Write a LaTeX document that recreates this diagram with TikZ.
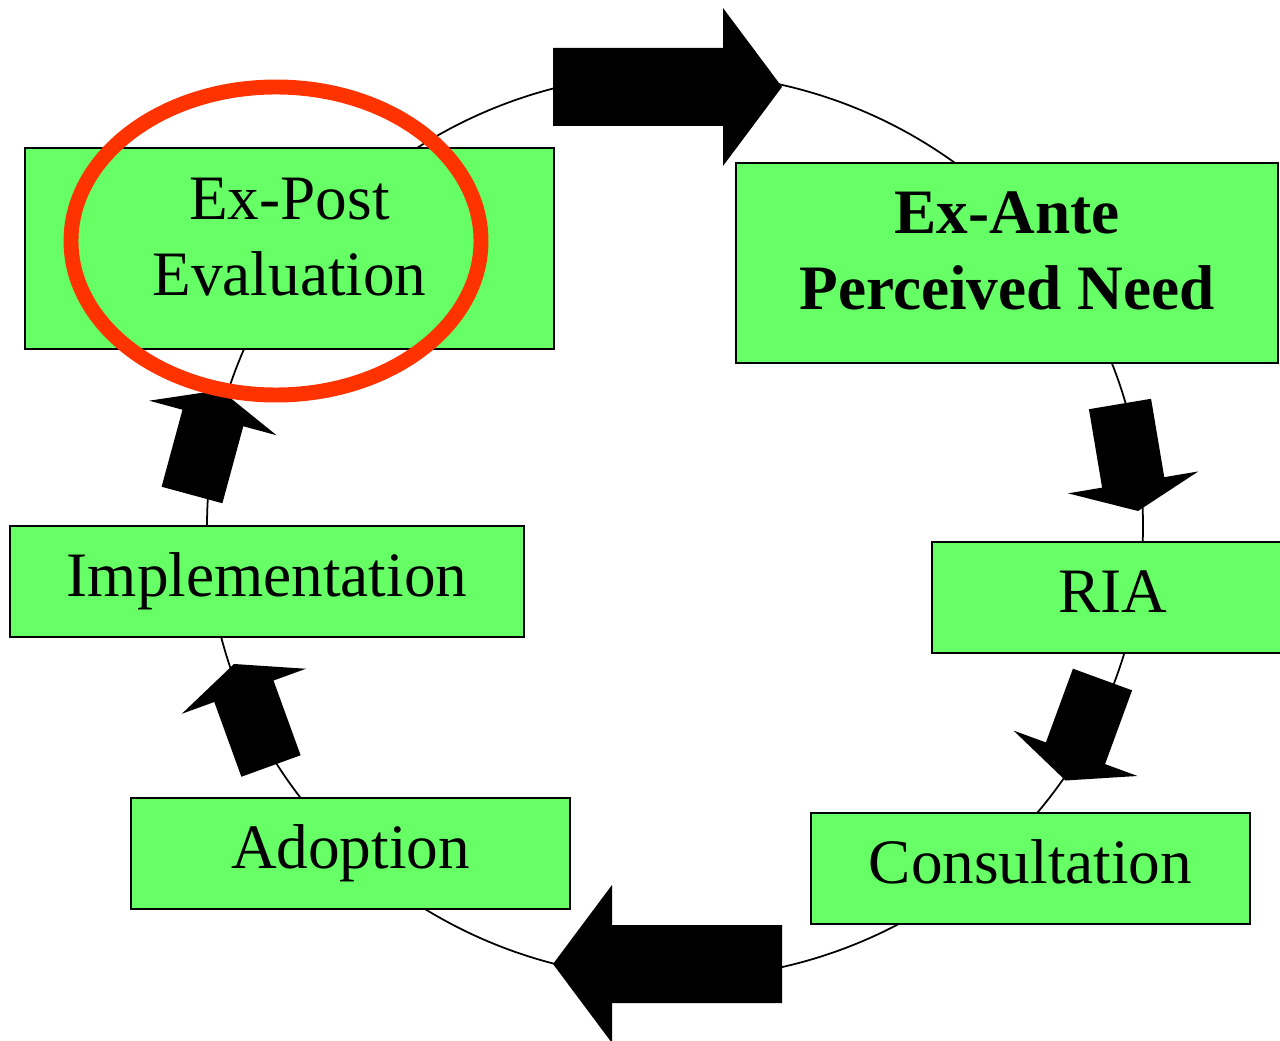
\documentclass[tikz,border=0pt]{standalone}
\usepackage{fontspec}
\setmainfont{Liberation Serif}
\usepackage{tikz}
\usetikzlibrary{calc}

\definecolor{stagegreen}{HTML}{66FF66}
\definecolor{markred}{HTML}{FF3300}

% block arrow: tail, tip, shaft half width, head half width, head length
\newcommand{\blockarrow}[5]{%
    \coordinate (hb) at ($(#2)!#5!(#1)$);
    \fill ($(#1)!#3!90:(#2)$) -- ($(hb)!#3!90:(#2)$) -- ($(hb)!#4!90:(#2)$) -- (#2)
        -- ($(hb)!#4!-90:(#2)$) -- ($(hb)!#3!-90:(#2)$) -- ($(#1)!#3!-90:(#2)$) -- cycle;
}

\tikzset{
    stage/.style={draw=black, line width=1.4pt, fill=stagegreen, align=center,
        font=\fontsize{36}{43.2}\selectfont},
    oneline/.style={stage, minimum height=2.22cm, text height=25.2pt, text depth=7.9pt},
}

\begin{document}
\begin{tikzpicture}
    \clip (0,0) rectangle (25.6,20.8);

    % Cycle
    \draw[line width=1pt] (13.5,10.28) ellipse (9.36 and 9.06);

    % Stages
    \node[stage, minimum width=10.58cm, minimum height=4.02cm] (expost) at (5.79,15.83)
        {Ex-Post\\Evaluation\rule[-13.7pt]{0pt}{0pt}};
    \node[stage, minimum width=10.84cm, minimum height=4cm] (exante) at (20.14,15.54)
        {\bfseries Ex-Ante\\\bfseries Perceived Need\rule[-13.7pt]{0pt}{0pt}};
    \node[oneline, minimum width=10.28cm] (impl) at (5.34,9.17) {Implementation};
    \node[oneline, minimum width=7.24cm] (ria) at (22.26,8.85) {RIA};
    \node[oneline, minimum width=8.78cm] (adopt) at (7.01,3.73) {Adoption};
    \node[oneline, minimum width=8.78cm] (consult) at (20.61,3.43) {Consultation};

    % Arrows
    \coordinate (topA) at (11.06,19.06);  \coordinate (topB) at (15.64,19.06);
    \coordinate (botA) at (15.64,1.52);   \coordinate (botB) at (11.06,1.52);
    \coordinate (r1A) at (22.4,12.72);    \coordinate (r1B) at (22.76,10.58);
    \coordinate (r2A) at (22.05,7.21);    \coordinate (r2B) at (21.31,5.19);
    \coordinate (l2A) at (5.42,5.48);     \coordinate (l2B) at (4.68,7.52);
    \coordinate (l1A) at (3.84,10.9);     \coordinate (l1B) at (4.41,13.0);

    \foreach \s/\e in {topA/topB, botA/botB} {
        \blockarrow{\s}{\e}{0.78cm}{1.58cm}{1.18cm}
    }
    \foreach \s/\e in {r1A/r1B, r2A/r2B, l2A/l2B, l1A/l1B} {
        \blockarrow{\s}{\e}{0.63cm}{1.32cm}{0.58cm}
    }

    % Highlight
    \draw[markred, line width=8.5pt] (5.52,15.98) ellipse (4.1 and 3.08);
\end{tikzpicture}
\end{document}
